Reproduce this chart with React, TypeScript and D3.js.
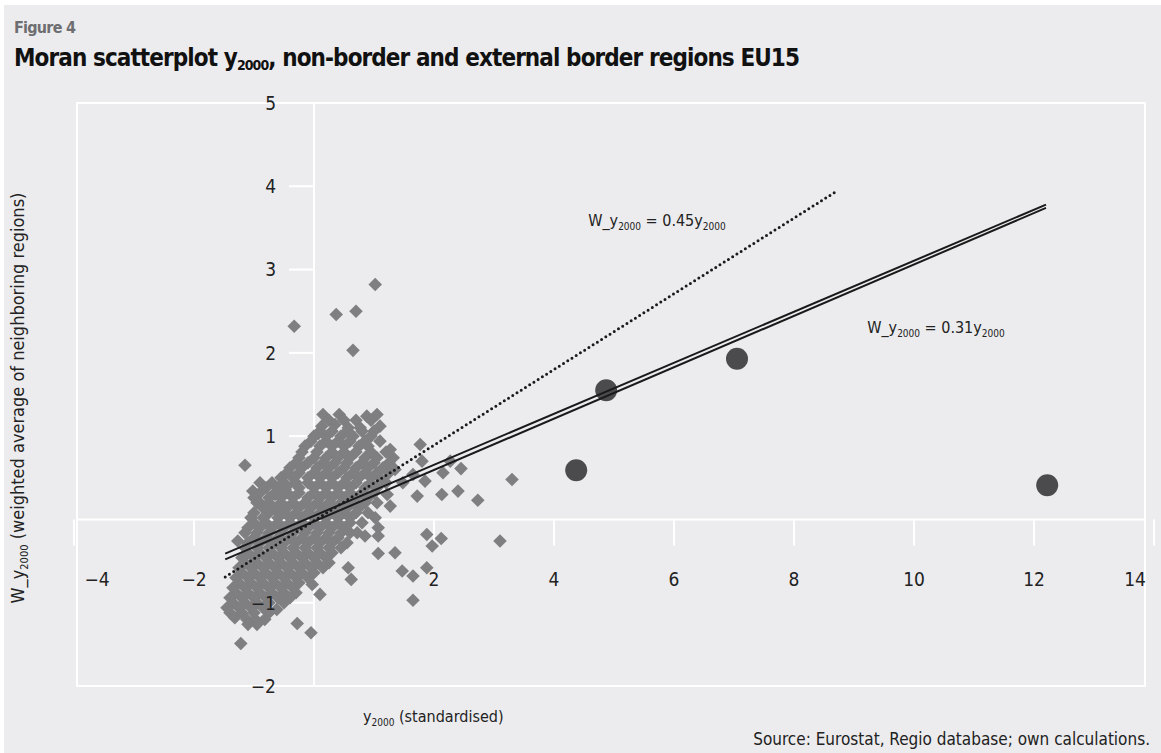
import * as d3 from "d3";

// axis extents
const xDomain: [number, number] = [-3.95, 13.85];
const yDomain: [number, number] = [-2, 5];
const xTicks = [-4, -2, 2, 4, 6, 8, 10, 12, 14];
const yTicks = [-2, -1, 1, 2, 3, 4, 5];

// grey diamonds, [y2000, W_y2000]
const nonBorderRegions: [number, number][] = [
  [1.02, 2.82], [-0.33, 2.32], [0.37, 2.46], [0.7, 2.5], [0.65, 2.03],
  [-1.15, 0.65], [-0.9, 0.44], [-1.02, 0.34], [-0.93, 0.22], [-0.65, 0.3], [-0.65, 0.12], [-0.48, 0.36],
  [0.15, 1.26], [0.42, 1.26], [0.88, 1.24], [1.05, 1.26],
  [0.25, 1.19], [0.5, 1.19], [0.7, 1.19], [0.95, 1.19],
  [0.13, 1.12], [0.35, 1.14], [0.57, 1.1], [0.77, 1.1], [1.1, 1.12],
  [0.1, 1.06], [0.3, 1.06], [0.55, 1.06], [0.8, 1.06], [1.0, 1.06],
  [0.0, 1.0], [0.2, 1.0], [0.45, 1.0], [0.65, 1.0], [0.95, 1.0], [0.07, 1.03],
  [-0.05, 0.94], [0.2, 0.94], [0.4, 0.94], [0.6, 0.94], [0.85, 0.94], [1.1, 0.94],
  [-0.15, 0.88], [0.1, 0.88], [0.3, 0.88], [0.5, 0.88], [0.75, 0.88], [0.9, 0.88], [1.27, 0.84], [1.77, 0.9],
  [-0.2, 0.81], [0.05, 0.81], [0.3, 0.81], [0.5, 0.81], [0.7, 0.81], [0.95, 0.81], [1.2, 0.81],
  [-0.25, 0.74], [0.0, 0.74], [0.2, 0.74], [0.4, 0.74], [0.6, 0.74], [0.85, 0.74], [1.05, 0.74], [1.32, 0.74], [1.8, 0.7], [2.27, 0.7],
  [-0.3, 0.68], [-0.1, 0.68], [0.15, 0.68], [0.35, 0.68], [0.55, 0.68], [0.8, 0.68], [1.0, 0.68], [1.25, 0.68],
  [-0.4, 0.62], [-0.2, 0.62], [0.05, 0.62], [0.25, 0.62], [0.5, 0.62], [0.7, 0.62], [0.9, 0.62], [1.15, 0.62], [1.35, 0.6], [2.45, 0.61],
  [-0.45, 0.56], [-0.25, 0.56], [0.0, 0.56], [0.2, 0.56], [0.4, 0.56], [0.65, 0.56], [0.85, 0.56], [1.05, 0.56], [1.25, 0.56],
  [-0.55, 0.5], [-0.35, 0.5], [-0.1, 0.5], [0.1, 0.5], [0.3, 0.5], [0.55, 0.5], [0.75, 0.5], [0.95, 0.5], [1.13, 0.48], [1.65, 0.54], [1.85, 0.46], [2.15, 0.56], [3.3, 0.48],
  [-0.7, 0.44], [-0.5, 0.44], [-0.3, 0.44], [-0.1, 0.44], [0.1, 0.44], [0.3, 0.44], [0.5, 0.44], [0.7, 0.44], [0.95, 0.44], [1.2, 0.44],
  [-0.8, 0.38], [-0.6, 0.38], [-0.45, 0.4], [-0.25, 0.38], [0.0, 0.38], [0.2, 0.38], [0.4, 0.38], [0.6, 0.38], [0.85, 0.38], [1.05, 0.38], [1.48, 0.44],
  [-0.9, 0.32], [-0.65, 0.32], [-0.45, 0.32], [-0.25, 0.32], [0.0, 0.32], [0.2, 0.32], [0.4, 0.32], [0.6, 0.32], [0.8, 0.32], [1.0, 0.32],
  [-1.0, 0.26], [-0.75, 0.26], [-0.55, 0.26], [-0.35, 0.26], [-0.1, 0.26], [0.1, 0.26], [0.3, 0.26], [0.5, 0.26], [0.7, 0.26], [0.9, 0.26], [1.22, 0.3], [1.72, 0.28], [2.13, 0.3], [2.4, 0.34],
  [-0.95, 0.2], [-0.75, 0.2], [-0.55, 0.2], [-0.35, 0.2], [-0.15, 0.2], [0.05, 0.2], [0.25, 0.2], [0.45, 0.2], [0.65, 0.2], [0.85, 0.2], [1.05, 0.2],
  [-0.85, 0.14], [-0.45, 0.14], [-0.25, 0.14], [-0.05, 0.14], [0.15, 0.14], [0.35, 0.14], [0.55, 0.14], [0.75, 0.14], [1.27, 0.16], [2.73, 0.23],
  [-1.0, 0.08], [-0.75, 0.08], [-0.5, 0.08], [-0.3, 0.08], [-0.1, 0.08], [0.1, 0.08], [0.3, 0.08], [0.5, 0.08], [0.7, 0.08], [0.9, 0.08],
  [-1.05, 0.02], [-0.85, 0.02], [-0.6, 0.02], [-0.4, 0.02], [-0.2, 0.02], [0.0, 0.02], [0.2, 0.02], [0.4, 0.02], [0.6, 0.02], [1.02, 0.02],
  [-1.0, -0.04], [-0.8, -0.04], [-0.6, -0.04], [-0.4, -0.04], [-0.2, -0.04], [0.0, -0.04], [0.2, -0.04], [0.4, -0.04], [0.6, -0.04], [0.8, -0.04],
  [-1.1, -0.1], [-0.9, -0.1], [-0.7, -0.1], [-0.5, -0.1], [-0.3, -0.1], [-0.1, -0.1], [0.1, -0.1], [0.3, -0.1], [0.5, -0.1], [1.07, -0.1],
  [-1.15, -0.16], [-0.95, -0.16], [-0.75, -0.16], [-0.55, -0.16], [-0.35, -0.16], [-0.15, -0.16], [0.05, -0.16], [0.25, -0.16], [0.45, -0.16], [0.6, -0.16],
  [-1.27, -0.26], [-1.0, -0.22], [-0.8, -0.22], [-0.6, -0.22], [-0.4, -0.22], [-0.2, -0.22], [0.0, -0.22], [0.2, -0.22], [0.4, -0.22], [0.72, -0.16], [0.85, -0.2], [1.07, -0.2], [1.88, -0.18], [2.12, -0.23], [3.1, -0.26],
  [-1.1, -0.28], [-0.9, -0.28], [-0.7, -0.28], [-0.5, -0.28], [-0.3, -0.28], [-0.1, -0.28], [0.1, -0.28], [0.3, -0.28], [0.55, -0.28],
  [-1.15, -0.34], [-0.95, -0.34], [-0.75, -0.34], [-0.55, -0.34], [-0.35, -0.34], [-0.15, -0.34], [0.05, -0.34], [0.25, -0.34], [0.45, -0.34], [1.97, -0.32],
  [-1.1, -0.4], [-0.9, -0.4], [-0.7, -0.4], [-0.5, -0.4], [-0.3, -0.4], [-0.1, -0.4], [0.1, -0.4], [0.3, -0.4],
  [-1.2, -0.46], [-1.0, -0.46], [-0.8, -0.46], [-0.6, -0.46], [-0.4, -0.46], [-0.2, -0.46], [0.0, -0.46], [0.2, -0.46], [1.07, -0.41], [1.35, -0.4],
  [-1.15, -0.52], [-0.95, -0.52], [-0.75, -0.52], [-0.55, -0.52], [-0.35, -0.52], [-0.15, -0.52], [0.05, -0.52], [0.25, -0.52],
  [-1.25, -0.58], [-1.05, -0.58], [-0.85, -0.58], [-0.65, -0.58], [-0.45, -0.58], [-0.25, -0.58], [-0.05, -0.58], [0.15, -0.58], [0.57, -0.58], [1.88, -0.58],
  [-1.2, -0.64], [-1.0, -0.64], [-0.8, -0.64], [-0.6, -0.64], [-0.4, -0.64], [-0.2, -0.64], [0.0, -0.64],
  [-1.3, -0.7], [-1.1, -0.7], [-0.9, -0.7], [-0.7, -0.7], [-0.5, -0.7], [-0.3, -0.7], [-0.1, -0.7], [0.62, -0.72], [1.47, -0.62], [1.65, -0.68],
  [-1.25, -0.76], [-1.05, -0.76], [-0.85, -0.76], [-0.65, -0.76], [-0.45, -0.76], [-0.25, -0.76],
  [-1.35, -0.82], [-1.15, -0.82], [-0.95, -0.82], [-0.75, -0.82], [-0.55, -0.82], [-0.35, -0.82], [-0.03, -0.78],
  [-1.3, -0.88], [-1.1, -0.88], [-0.9, -0.88], [-0.7, -0.88], [-0.5, -0.88], [-0.3, -0.88],
  [-1.4, -0.94], [-1.2, -0.94], [-1.0, -0.94], [-0.8, -0.94], [-0.6, -0.94], [-0.4, -0.94], [0.1, -0.9], [1.65, -0.97],
  [-1.35, -1.0], [-1.15, -1.0], [-0.95, -1.0], [-0.75, -1.0], [-0.5, -1.0],
  [-1.45, -1.06], [-1.25, -1.06], [-1.05, -1.06], [-0.85, -1.06], [-0.62, -1.08],
  [-1.4, -1.12], [-1.2, -1.12], [-1.0, -1.12], [-0.75, -1.12],
  [-1.32, -1.18], [-1.12, -1.2], [-0.98, -1.2], [-0.82, -1.2],
  [-1.1, -1.26], [-0.95, -1.26], [-0.28, -1.25], [-0.05, -1.36], [-1.22, -1.49],
];

// dark circles
const externalBorderRegions: [number, number][] = [
  [4.37, 0.59], [4.87, 1.55], [7.05, 1.93], [12.22, 0.41],
];

// fitted lines (endpoints)
const fit045: [number, number][] = [[-1.48, -0.69], [8.73, 3.95]];
const fit031a: [number, number][] = [[-1.48, -0.41], [12.2, 3.78]];
const fit031b: [number, number][] = [[-1.48, -0.48], [12.2, 3.74]];

const W = 1161;
const H = 753;
const plot = { left: 77, right: 1145, top: 103, bottom: 686 };
const FONT = "'Liberation Sans Narrow', 'Arial Narrow', 'DejaVu Sans Condensed', sans-serif";
const BG = "#ececee";
const INK = "#222";

function Sub({ children, size = 11 }: { children: string; size?: number }) {
  return (
    <tspan fontSize={size} dy={4}>
      {children}
    </tspan>
  );
}

export default function App() {
  const x = d3.scaleLinear().domain(xDomain).range([plot.left, plot.right]);
  const y = d3.scaleLinear().domain(yDomain).range([plot.bottom, plot.top]);
  const line = d3.line<[number, number]>().x((d) => x(d[0])).y((d) => y(d[1]));
  const diamond = d3.symbol().type(d3.symbolSquare).size(92)();

  const x0 = x(0);
  const y0 = y(0);

  return (
    <svg width={W} height={H} style={{ display: "block", position: "absolute", left: 0, top: 0 }}>
      <rect x={0} y={0} width={W} height={H} fill="#fff" />
      <rect x={4} y={5} width={W - 4} height={H - 5} fill={BG} />

      <text x={14} y={33} fontFamily={FONT} fontWeight={700} fontSize={16} fill="#6e6e71" textLength={62} lengthAdjust="spacing">
        Figure 4
      </text>
      <text x={14} y={66} fontFamily={FONT} fontWeight={700} fontSize={24} fill="#111" textLength={786} lengthAdjust="spacing">
        Moran scatterplot y<Sub size={14}>2000</Sub>
        <tspan dy={-4}>, non-border and external border regions EU15</tspan>
      </text>

      {/* frame and axes */}
      <rect x={plot.left} y={plot.top} width={plot.right - plot.left} height={plot.bottom - plot.top} fill="none" stroke="#fff" strokeWidth={2} />
      <line x1={x0} x2={x0} y1={plot.top} y2={plot.bottom} stroke="#fff" strokeWidth={2} />
      <line x1={plot.left} x2={plot.right} y1={y0} y2={y0} stroke="#fff" strokeWidth={2} />
      {yTicks.map((t) => (
        <line key={`yt${t}`} x1={x0 - 25} x2={x0} y1={y(t)} y2={y(t)} stroke="#fff" strokeWidth={2} />
      ))}
      {xTicks.map((t) => (
        <line key={`xt${t}`} x1={x(t)} x2={x(t)} y1={y0} y2={y0 + 26} stroke="#fff" strokeWidth={2} />
      ))}

      {/* points */}
      {nonBorderRegions.map((d, i) => (
        <path key={`p${i}`} d={diamond} transform={`translate(${x(d[0])},${y(d[1])}) rotate(45)`} fill="#7f7f82" />
      ))}
      {externalBorderRegions.map((d, i) => (
        <circle key={`c${i}`} cx={x(d[0])} cy={y(d[1])} r={11} fill="#4b4b4d" />
      ))}

      {/* fits */}
      <path d={line(fit045) ?? ""} fill="none" stroke="#1a1a1a" strokeWidth={3} strokeLinecap="round" strokeDasharray="0 5" />
      <path d={line(fit031a) ?? ""} fill="none" stroke="#1a1a1a" strokeWidth={2} />
      <path d={line(fit031b) ?? ""} fill="none" stroke="#1a1a1a" strokeWidth={2} />

      {/* tick labels */}
      {yTicks.map((t) => (
        <text key={`yl${t}`} x={x0 - 38} y={y(t)} dy="0.36em" textAnchor="end" fontFamily={FONT} fontSize={19} fill={INK}>
          {t < 0 ? `\u2212${-t}` : t}
        </text>
      ))}
      {xTicks.map((t) => (
        <text key={`xl${t}`} x={Math.min(Math.max(x(t), plot.left + 20), plot.right - 10)} y={y0 + 60} dy="0.36em" textAnchor="middle" fontFamily={FONT} fontSize={19} fill={INK}>
          {t < 0 ? `\u2212${-t}` : t}
        </text>
      ))}

      {/* equations */}
      <text x={x(4.57)} y={y(3.52)} fontFamily={FONT} fontSize={16} fill={INK}>
        W_y<Sub size={10}>2000</Sub>
        <tspan dy={-4}> = 0.45y</tspan>
        <Sub size={10}>2000</Sub>
      </text>
      <text x={x(9.22)} y={y(2.24)} fontFamily={FONT} fontSize={16} fill={INK}>
        W_y<Sub size={10}>2000</Sub>
        <tspan dy={-4}> = 0.31y</tspan>
        <Sub size={10}>2000</Sub>
      </text>

      {/* axis titles */}
      <text transform="translate(24,398) rotate(-90)" textAnchor="middle" fontFamily={FONT} fontSize={18} fill={INK}>
        W_y<Sub>2000</Sub>
        <tspan dy={-4}> (weighted average of neighboring regions)</tspan>
      </text>
      <text x={363} y={722} fontFamily={FONT} fontSize={16} fill={INK}>
        y<Sub size={10}>2000</Sub>
        <tspan dy={-4}> (standardised)</tspan>
      </text>
      <text x={1150} y={745} textAnchor="end" fontFamily={FONT} fontSize={17} fill={INK}>
        Source: Eurostat, Regio database; own calculations.
      </text>
    </svg>
  );
}
